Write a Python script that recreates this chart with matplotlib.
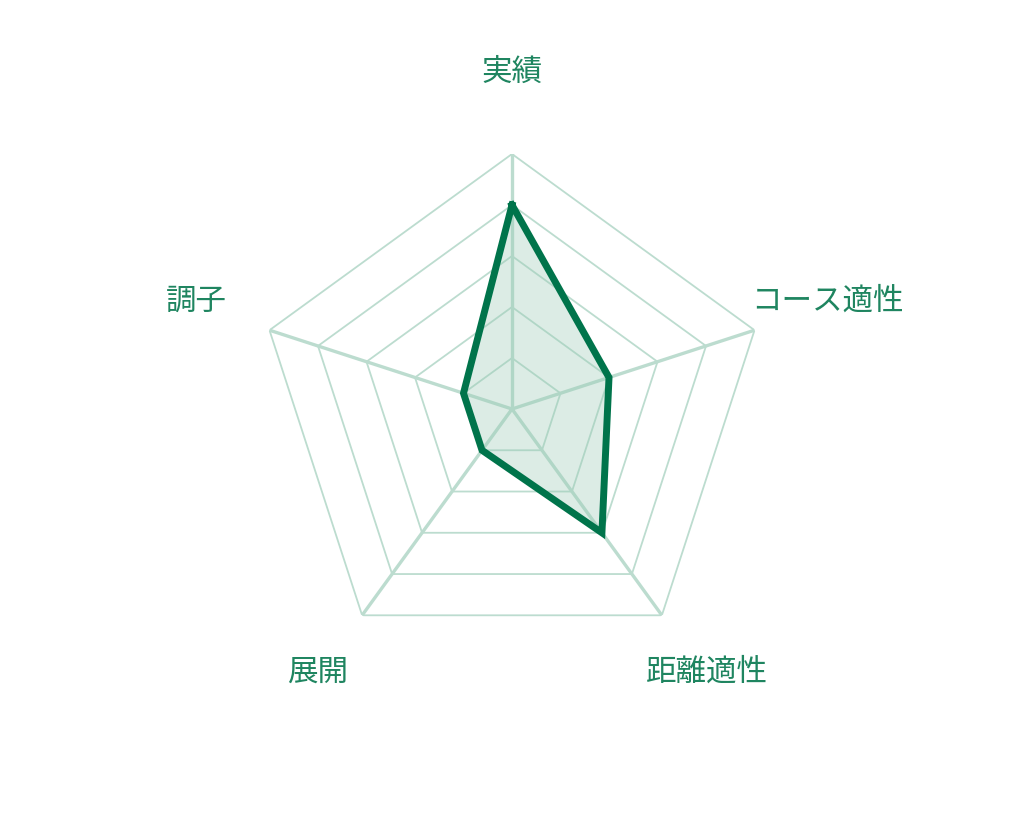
import numpy as np
import matplotlib
matplotlib.use("Agg")
import matplotlib.pyplot as plt

plt.rcParams['font.family'] = ['Noto Sans CJK JP', 'DejaVu Sans']

# chart data
labels = ['実績', 'コース適性', '距離適性', '展開', '調子']
values = [4, 2, 3, 1, 1]
max_value = 5
levels = [1, 2, 3, 4, 5]

line_color = '#00744b'
fill_color = '#9ccbb6'
grid_color = '#bcdccf'
text_color = '#1f8560'

fig = plt.figure(figsize=(10.24, 8.2), dpi=100)
ax = fig.add_axes([257 / 1024, 155 / 820, 510 / 1024, 510 / 820], projection='polar')
ax.set_theta_offset(np.pi / 2)
ax.set_theta_direction(-1)
ax.set_ylim(0, max_value)
ax.set_axis_off()

n = len(labels)
angles = np.linspace(0, 2 * np.pi, n, endpoint=False)
closed_angles = np.append(angles, angles[0])

# pentagon rings
for lv in levels:
    ax.plot(closed_angles, [lv] * (n + 1), color=grid_color, lw=1.3, zorder=1)

# spokes
for a in angles:
    ax.plot([a, a], [0, max_value], color=grid_color, lw=2.4, zorder=1)

vals = np.append(values, values[0])
ax.fill(closed_angles, vals, color=fill_color, alpha=0.35, zorder=2, lw=0)
ax.plot(closed_angles, vals, color=line_color, lw=5, zorder=3,
        solid_joinstyle='miter')

for a, lab in zip(angles, labels):
    ax.annotate(lab, xy=(a, 6.5), xytext=(0, 4.5), textcoords='offset points',
                ha='center', va='center', fontsize=22, color=text_color,
                annotation_clip=False)

fig.savefig('out.png', dpi=100)
